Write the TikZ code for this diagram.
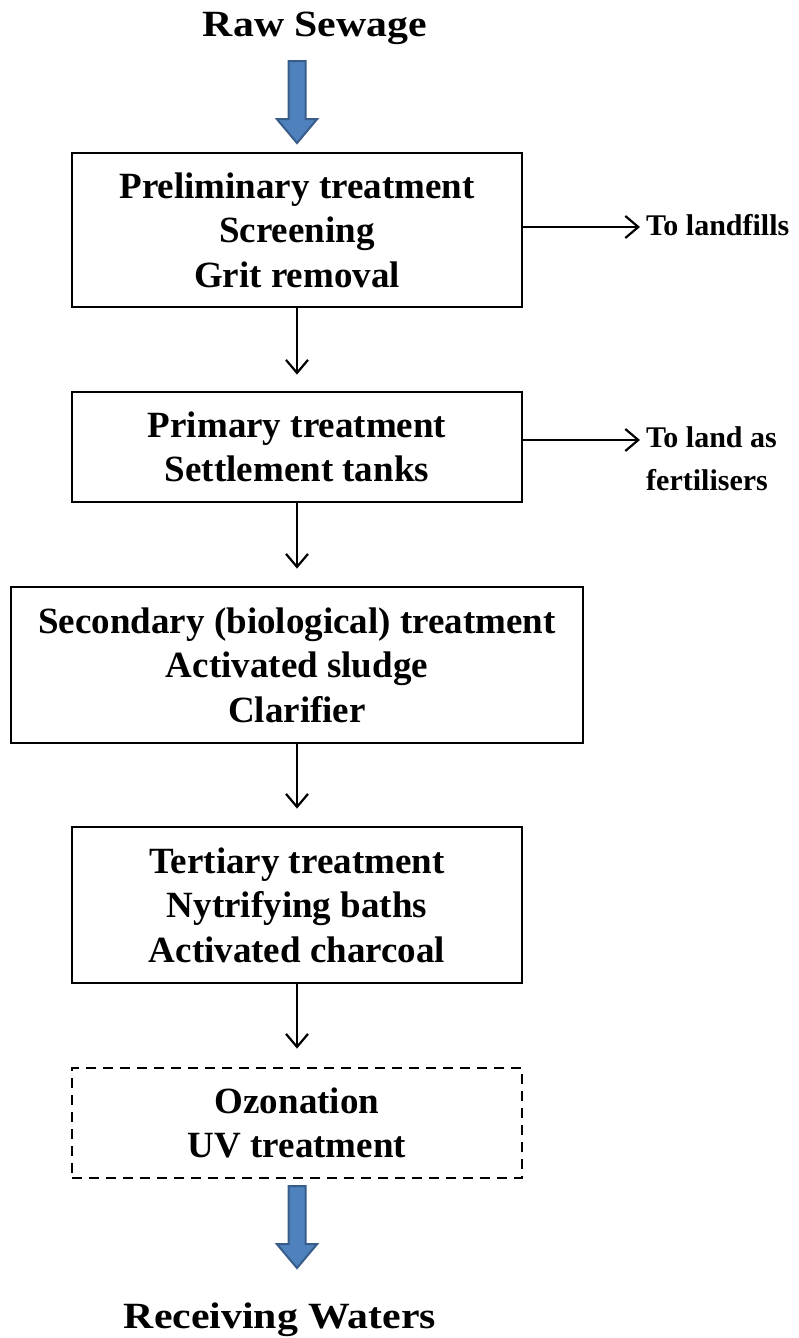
\documentclass[tikz,border=0pt]{standalone}
\usepackage{fontspec}
\setmainfont{Liberation Serif}
\usetikzlibrary{positioning, arrows.meta, shapes.arrows}
\definecolor{flowblue}{HTML}{4F81BD}
\definecolor{flowblueedge}{HTML}{385D8A}

\tikzset{
  stage/.style={draw, line width=2.8pt, align=center, inner sep=0pt,
    font=\fontsize{37}{44.5}\selectfont\bfseries, minimum width=450pt},
  optstage/.style={stage, dash pattern=on 10pt off 7pt},
  flow/.style={line width=2.2pt, -{Straight Barb[length=13pt,width=22pt]}},
  bigflow/.style={single arrow, draw=flowblueedge, fill=flowblue, line width=2pt,
    minimum height=82pt, inner xsep=0pt, inner ysep=7.5pt,
    single arrow head extend=11.5pt, single arrow tip angle=80, rotate=-90},
  endpoint/.style={font=\fontsize{37}{44}\selectfont\bfseries, xscale=1.13, inner sep=0pt},
  sidenote/.style={font=\fontsize{30}{43}\selectfont\bfseries, align=left, inner sep=0pt},
}

\begin{document}
\begin{tikzpicture}[x=1pt, y=-1pt]
  \useasboundingbox (0,0) rectangle (798,1338);

  % treatment chain
  \node[endpoint, anchor=base] (raw) at (315,37) {Raw Sewage};
  \node[bigflow] (inarrow) at (297,97) {};
  \node[stage, minimum height=154pt] (prelim) at (297,230)
    {Preliminary treatment\\Screening\\Grit removal};
  \node[stage, minimum height=110pt] (primary) at (297,447)
    {Primary treatment\\Settlement tanks};
  \node[stage, minimum height=156pt, minimum width=572pt] (secondary) at (297,665)
    {Secondary (biological) treatment\\Activated sludge\\Clarifier};
  \node[stage, minimum height=156pt] (tertiary) at (297,905)
    {Tertiary treatment\\Nytrifying baths\\Activated charcoal};
  \node[optstage, minimum height=110pt] (ozone) at (297,1123)
    {Ozonation\\UV treatment};
  \node[bigflow] (outarrow) at (297,1222) {};
  \node[endpoint, anchor=base] (receiving) at (280,1328) {Receiving Waters};

  \draw[flow, shorten >=16pt] (prelim) -- (primary);
  \draw[flow, shorten >=17pt] (primary) -- (secondary);
  \draw[flow, shorten >=17pt] (secondary) -- (tertiary);
  \draw[flow, shorten >=18pt] (tertiary) -- (ozone);

  % side outputs
  \node[sidenote, anchor=west] (landfill) at (646,225) {To landfills};
  \node[sidenote, anchor=west] (fert) at (646,459) {To land as\\fertilisers};
  \draw[flow, shorten >=6pt] ([yshift=3pt]prelim.east) -- ([yshift=3pt]prelim.east -| landfill.west);
  \draw[flow, shorten >=6pt] ([yshift=7pt]primary.east) -- ([yshift=7pt]primary.east -| fert.west);
\end{tikzpicture}
\end{document}
